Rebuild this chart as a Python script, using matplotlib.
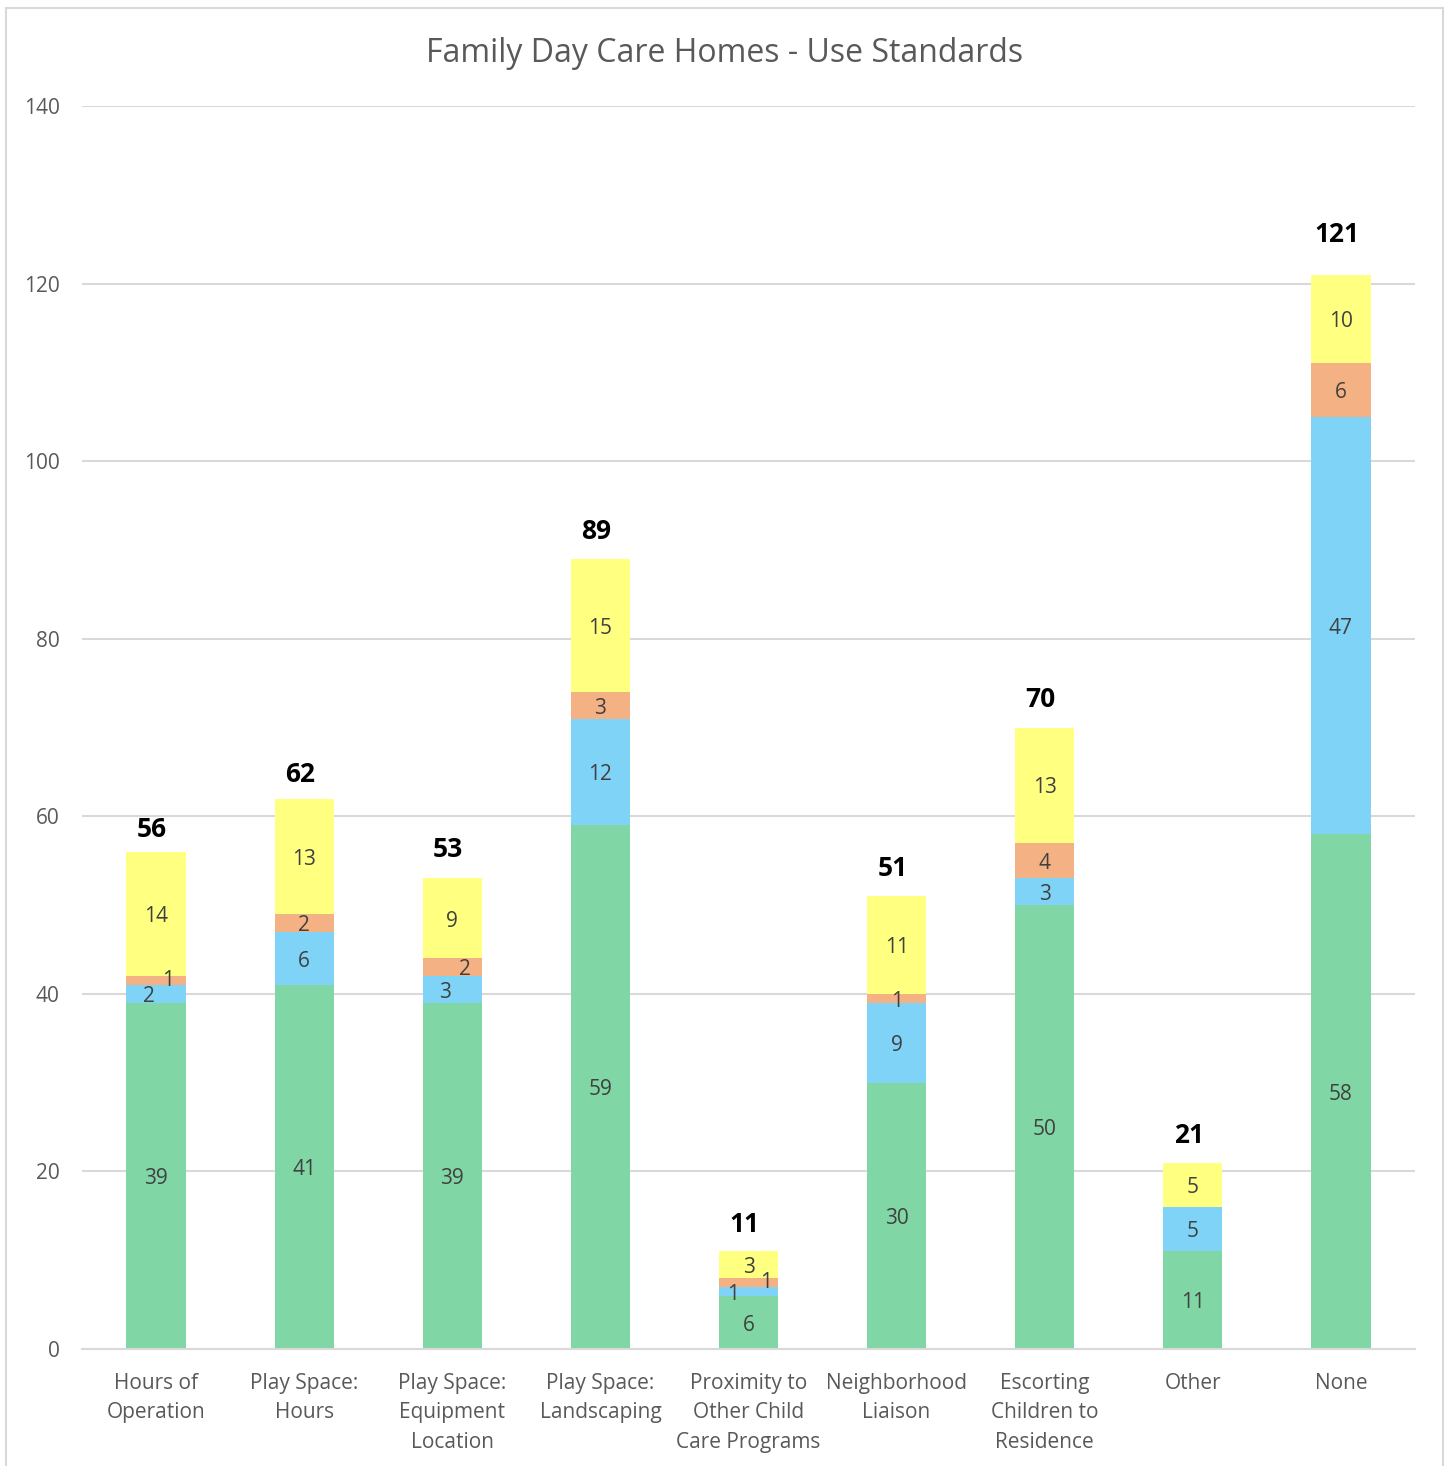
import numpy as np
import matplotlib.pyplot as plt
from matplotlib.patches import Rectangle

plt.rcParams['font.family'] = ['Open Sans', 'DejaVu Sans']

# Data
categories = ['Hours of\nOperation', 'Play Space:\nHours', 'Play Space:\nEquipment\nLocation',
              'Play Space:\nLandscaping', 'Proximity to\nOther Child\nCare Programs',
              'Neighborhood\nLiaison', 'Escorting\nChildren to\nResidence', 'Other', 'None']
green = [39, 41, 39, 59, 6, 30, 50, 11, 58]
blue = [2, 6, 3, 12, 1, 9, 3, 5, 47]
orange = [1, 2, 2, 3, 1, 1, 4, 0, 6]
yellow = [14, 13, 9, 15, 3, 11, 13, 5, 10]
yticks = [0, 20, 40, 60, 80, 100, 120, 140]

series = [green, blue, orange, yellow]
colors = ['#80D7A5', '#7FD3F7', '#F4B183', '#FFFF80']

# small label nudges (points) for crowded segments: (series, category) -> (dx, dy)
nudges = {(1, 0): (-5, -2), (2, 0): (9, 0),
          (1, 2): (-5, -2), (2, 2): (9, -2),
          (1, 4): (-11, -2), (2, 4): (13, 0)}
# vertical offset (points) of total labels
total_dy = [16, 17.5, 21, 19.5, 19.5, 20, 20, 19.5, 29]

fig = plt.figure(figsize=(14.49, 14.66), dpi=100)
fig.patches.append(Rectangle((6 / 1449, -0.01), (1443 - 6) / 1449, (1466 - 8) / 1466 + 0.01,
                             transform=fig.transFigure, fill=False, edgecolor='#D9D9D9', lw=1.5))

ax = fig.add_axes([82 / 1449, 117 / 1466, (1415 - 82) / 1449, (1349 - 106) / 1466])
x = np.arange(len(categories))
bottom = np.zeros(len(categories))
for si, (vals, col) in enumerate(zip(series, colors)):
    vals = np.array(vals)
    ax.bar(x, vals, 0.4, bottom=bottom, color=col, zorder=2)
    for i, v in enumerate(vals):
        if v == 0:
            continue
        dx, dy = nudges.get((si, i), (0, -2))
        ax.annotate(str(v), (x[i], bottom[i] + v / 2), xytext=(dx, dy), textcoords='offset points',
                    ha='center', va='center', fontsize=15, color='#404040', zorder=3)
    bottom = bottom + vals

for i, t in enumerate(bottom):
    ax.annotate(str(int(t)), (x[i], t), xytext=(-3, total_dy[i]), textcoords='offset points',
                ha='center', va='center', fontsize=19, fontweight='bold', color='black')

ax.set_xlim(-0.5, len(categories) - 0.5)
ax.set_ylim(0, 140)
ax.set_yticks(yticks)
ax.grid(axis='y', color='#D9D9D9', lw=1.5, zorder=0)
for s in ['top', 'right', 'left']:
    ax.spines[s].set_visible(False)
ax.spines['bottom'].set_color('#D9D9D9')
ax.spines['bottom'].set_linewidth(1.5)
ax.tick_params(axis='both', length=0, labelsize=15, labelcolor='#595959')
ax.tick_params(axis='y', pad=16)
ax.set_xticks(x)
ax.set_xticklabels(categories, linespacing=1.55)
ax.tick_params(axis='x', pad=17)

fig.text(0.5, 1 - 53 / 1466, 'Family Day Care Homes - Use Standards', ha='center', va='center',
         fontsize=23, color='#595959')

fig.savefig('out.png', dpi=100)
